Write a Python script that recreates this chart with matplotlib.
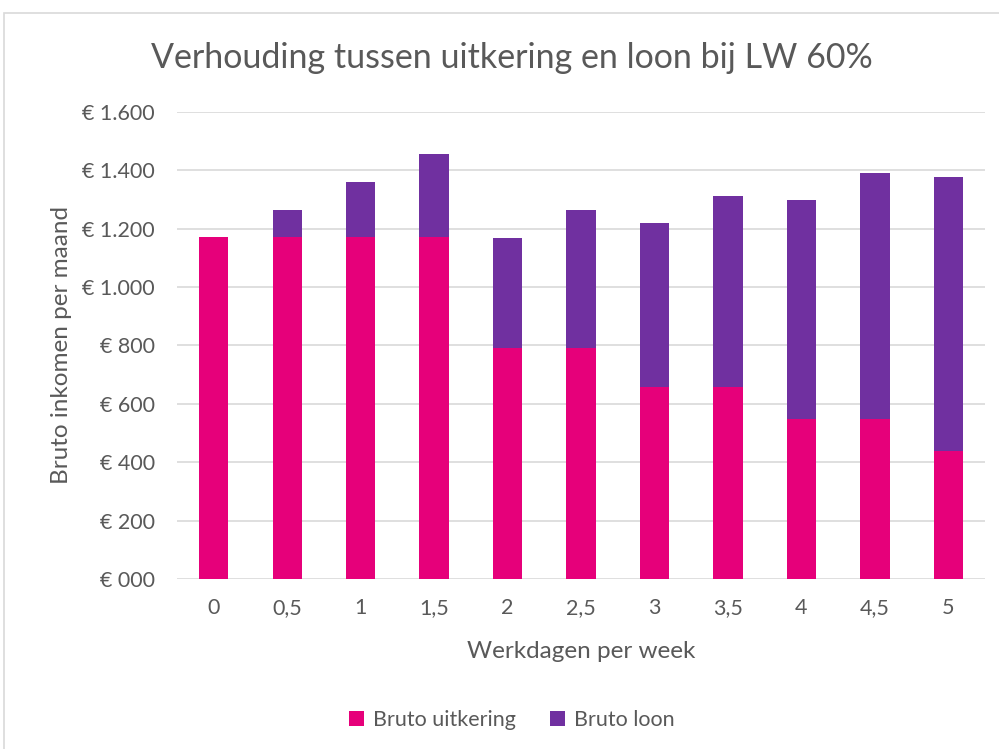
import matplotlib.pyplot as plt
from matplotlib.patches import Rectangle

# data
werkdagen = ['0', '0,5', '1', '1,5', '2', '2,5', '3', '3,5', '4', '4,5', '5']
uitkering = [1173, 1173, 1173, 1173, 792, 792, 659, 659, 549, 549, 440]
totaal = [1173, 1265, 1360, 1456, 1169, 1264, 1220, 1313, 1297, 1391, 1377]
loon = [t - u for t, u in zip(totaal, uitkering)]

yticks = [0, 200, 400, 600, 800, 1000, 1200, 1400, 1600]
ylabels = ['€ 000', '€ 200', '€ 400', '€ 600', '€ 800', '€ 1.000',
           '€ 1.200', '€ 1.400', '€ 1.600']

pink = '#E6007A'
purple = '#7030A0'
grey_text = '#595959'

plt.rcParams['font.family'] = ['Lato', 'DejaVu Sans']

fig = plt.figure(figsize=(9.99, 7.49), dpi=100)
ax = fig.add_axes([0.1772, 0.227, 0.8088, 0.6235])

# chart border like excel
fig.patches.append(Rectangle((4 / 999, -0.1), 1.2, 1 - 13 / 749 + 0.1,
                             transform=fig.transFigure, fill=False,
                             edgecolor='#D9D9D9', linewidth=1.2))

x = range(len(werkdagen))
ax.bar(x, uitkering, width=0.4, color=pink, label='Bruto uitkering', zorder=3)
ax.bar(x, loon, width=0.4, bottom=uitkering, color=purple, label='Bruto loon', zorder=3)

ax.set_xlim(-0.5, len(werkdagen) - 0.5)
ax.set_ylim(0, 1600)
ax.set_yticks(yticks)
ax.set_yticklabels(ylabels)
ax.set_xticks(list(x))
ax.set_xticklabels(werkdagen)
ax.grid(axis='y', color='#D9D9D9', linewidth=1.2, zorder=0)
ax.tick_params(length=0, labelsize=15.5, colors=grey_text)
ax.tick_params(axis='y', pad=16)
ax.tick_params(axis='x', pad=14)
for s in ax.spines.values():
    s.set_visible(False)

ax.set_xlabel('Werkdagen per week', fontsize=17.5, color=grey_text, labelpad=16)
ax.set_ylabel('Bruto inkomen per maand', fontsize=17.5, color=grey_text, labelpad=7)
fig.text(0.512, 1 - 58 / 749, 'Verhouding tussen uitkering en loon bij LW 60%',
         ha='center', va='center', fontsize=24.5, color=grey_text)

fig.legend(loc='center', bbox_to_anchor=(0.512, 1 - 720 / 749), ncol=2, frameon=False,
           fontsize=15.5, labelcolor=grey_text, handlelength=0.7, handleheight=0.7,
           handletextpad=0.4, columnspacing=1.6)

fig.savefig('out.png', dpi=100)
